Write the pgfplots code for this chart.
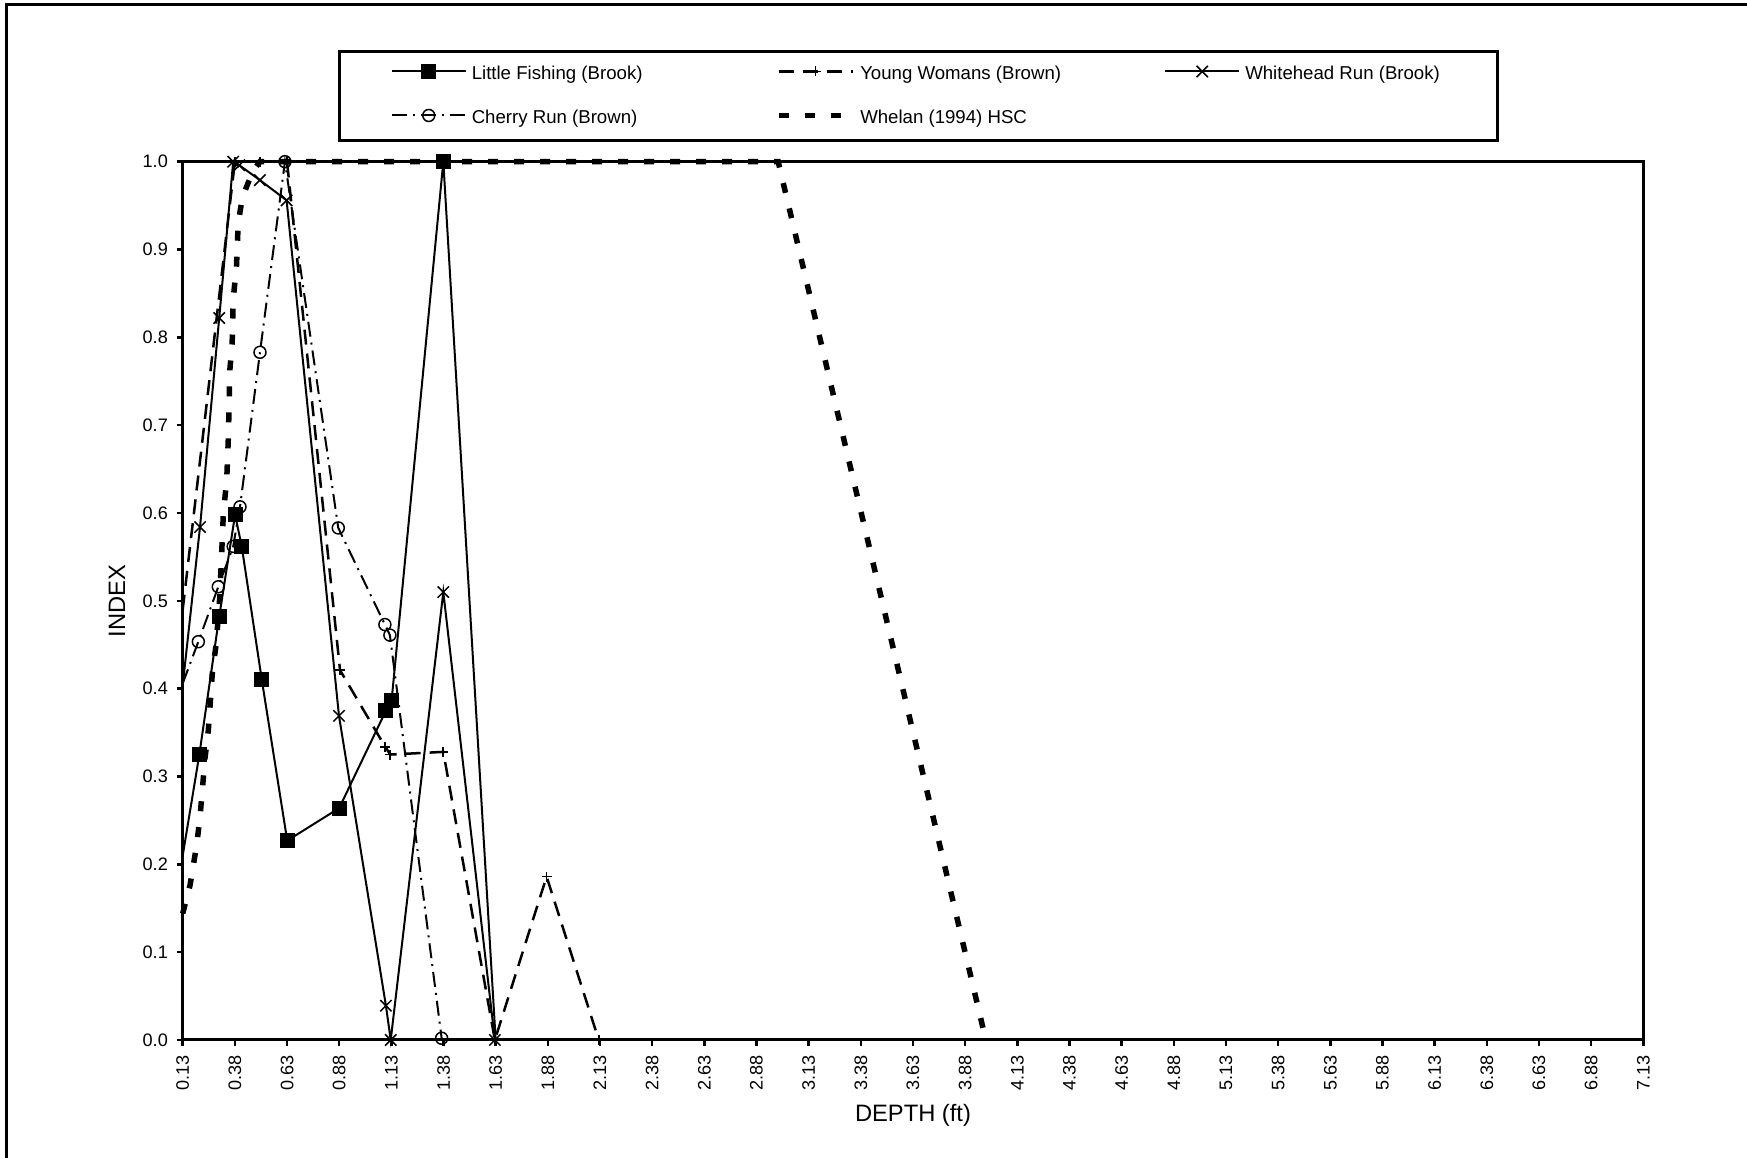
\documentclass[border=0pt]{standalone}
\usepackage{pgfplots}
\pgfplotsset{compat=1.18}
\usepackage{fontspec}
\setmainfont{Liberation Sans}
\begin{document}
\begin{tikzpicture}
\useasboundingbox (0,0) rectangle (349.4mm,231.6mm);
\draw[line width=0.6mm] (1.2mm,0) -- (1.2mm,230.6mm) -- (349.4mm,230.6mm);
\begin{axis}[
  at={(36.54mm,23.6mm)}, anchor=south west,
  scale only axis, width=292.12mm, height=175.66mm,
  xmin=0.13, xmax=7.13, ymin=0, ymax=1,
  clip=false,
  axis line style={line width=0.6mm},
  tick style={line width=0.5mm, black},
  tick align=outside, major tick length=1.2mm,
  tick pos=left,
  xtick={0.13,0.38,0.63,0.88,1.13,1.38,1.63,1.88,2.13,2.38,2.63,2.88,3.13,3.38,3.63,3.88,4.13,4.38,4.63,4.88,5.13,5.38,5.63,5.88,6.13,6.38,6.63,6.88,7.13},
  xticklabels={0.13,0.38,0.63,0.88,1.13,1.38,1.63,1.88,2.13,2.38,2.63,2.88,3.13,3.38,3.63,3.88,4.13,4.38,4.63,4.88,5.13,5.38,5.63,5.88,6.13,6.38,6.63,6.88,7.13},
  ytick={0,0.1,0.2,0.3,0.4,0.5,0.6,0.7,0.8,0.9,1.0},
  yticklabels={0.0,0.1,0.2,0.3,0.4,0.5,0.6,0.7,0.8,0.9,1.0},
  x tick label style={rotate=90, anchor=east, inner sep=0pt, font=\fontsize{10.3}{12}\selectfont},
  y tick label style={anchor=east, inner sep=0pt, font=\fontsize{10.3}{12}\selectfont},
  xticklabel shift=1.8mm,
  yticklabel shift=1.7mm,
  xlabel={DEPTH (ft)}, ylabel={INDEX},
  label style={font=\fontsize{13.5}{16}\selectfont},
  xlabel style={at={(axis description cs:0.5,-0.0854)}, anchor=center},
  ylabel style={at={(axis description cs:-0.045,0.5)}, anchor=center},
  legend columns=3,
  legend image code/.code={\draw[#1,mark indices={2}] plot coordinates {(0mm,0.8mm) (7.4mm,0.8mm) (14.8mm,0.8mm)};},
  legend style={at={(axis description cs:0.1065,1.1272)}, anchor=north west,
    draw=black, line width=0.6mm, inner xsep=10.2mm, inner ysep=2.6mm,
    nodes={inner sep=0pt, text height=2.4mm, text depth=0.8mm},
    font=\fontsize{10.6}{12.7}\selectfont,
    /tikz/every odd column/.append style={column sep=1mm},
    /tikz/every even column/.append style={column sep=20.6mm},
    row sep=5.2mm},
  legend cell align=left,
]
% Little Fishing (Brook)
\addplot[black, line width=0.4mm, mark=square*, mark size=1.4mm, mark indices={2,3,4,5,6,7,8,9,10,11}, mark options={solid, fill=black, line width=0.2mm}]
  coordinates {(0.13,0.21) (0.2095,0.3245) (0.305,0.482) (0.381,0.598) (0.413,0.562) (0.5085,0.411) (0.631,0.227) (0.880,0.264) (1.104,0.375) (1.131,0.386) (1.379,1.0) (1.630,0.0)};
\addlegendentry{\makebox[40.2mm][l]{Little Fishing (Brook)}}
% Young Womans (Brown)
\addplot[black, line width=0.5mm, dash pattern=on 3mm off 1.8mm, mark=+, mark size=1mm, mark indices={2,3,4,5,6,7,8,9,10,11}, mark options={solid, line width=0.35mm}]
  coordinates {(0.13,0.49) (0.38,1.0) (0.50,1.0) (0.63,1.0) (0.884,0.421) (1.10,0.334) (1.125,0.325) (1.379,0.328) (1.626,0.0) (1.874,0.186) (2.124,0.0)};
\addlegendentry{\makebox[40.2mm][l]{Young Womans (Brown)}}
% Whitehead Run (Brook)
\addplot[black, line width=0.4mm, mark=x, mark size=1.6mm, mark indices={2,3,4,5,6,7,8,9,10,11,12}, mark options={solid, line width=0.3mm}]
  coordinates {(0.13,0.404) (0.213,0.584) (0.305,0.822) (0.372,1.0) (0.401,0.996) (0.500,0.979) (0.628,0.956) (0.879,0.369) (1.104,0.039) (1.127,0.0) (1.379,0.510) (1.626,0.0)};
\addlegendentry{\makebox[40.2mm][l]{Whitehead Run (Brook)}}
% Cherry Run (Brown)
\addplot[black, line width=0.4mm, dash pattern=on 3mm off 1.2mm on 0.4mm off 1.2mm, mark=o, mark size=1.2mm, mark indices={2,3,4,5,6,7,8,9,10,11}, mark options={solid, fill=white, line width=0.3mm}]
  coordinates {(0.13,0.406) (0.205,0.4535) (0.3006,0.516) (0.372,0.562) (0.4046,0.607) (0.5004,0.783) (0.620,1.0) (0.8756,0.583) (1.099,0.473) (1.123,0.461) (1.371,0.002)};
\addlegendentry{\makebox[40.2mm][l]{Cherry Run (Brown)}}
% Whelan (1994) HSC
\addplot[black, line width=1.1mm, dash pattern=on 2mm off 3.2mm]
  coordinates {(0.13,0.144) (0.165,0.176) (0.197,0.222) (0.213,0.254) (0.237,0.321) (0.253,0.353) (0.272,0.418) (0.29,0.45) (0.308,0.505) (0.325,0.60) (0.341,0.638) (0.349,0.687) (0.356,0.763) (0.367,0.793) (0.372,0.843) (0.388,0.882) (0.396,0.93) (0.415,0.958) (0.437,0.972) (0.468,0.99) (0.50,1.0) (2.984,1.0) (3.979,0.0)};
\addlegendentry{\makebox[40.2mm][l]{Whelan (1994) HSC}}
\end{axis}
\end{tikzpicture}
\end{document}
